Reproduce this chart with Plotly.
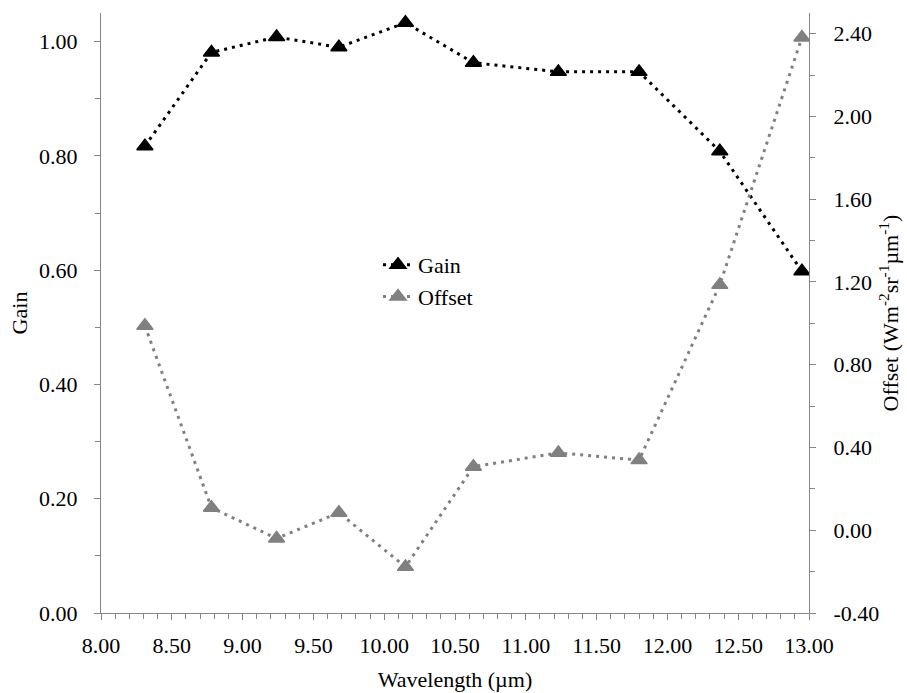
import plotly.graph_objects as go

wavelength = [8.31, 8.78, 9.24, 9.68, 10.15, 10.63, 11.23, 11.80, 12.37, 12.95]
gain = [0.817, 0.981, 1.008, 0.990, 1.033, 0.963, 0.947, 0.947, 0.808, 0.598]
offset = [0.988, 0.109, -0.040, 0.085, -0.177, 0.307, 0.374, 0.339, 1.186, 2.382]

x_tickvals = [8.0, 8.5, 9.0, 9.5, 10.0, 10.5, 11.0, 11.5, 12.0, 12.5, 13.0]
x_ticktext = ["8.00", "8.50", "9.00", "9.50", "10.00", "10.50", "11.00", "11.50", "12.00", "12.50", "13.00"]
gain_tickvals = [0.0, 0.2, 0.4, 0.6, 0.8, 1.0]
gain_ticktext = ["0.00", "0.20", "0.40", "0.60", "0.80", "1.00"]
off_tickvals = [-0.4, 0.0, 0.4, 0.8, 1.2, 1.6, 2.0, 2.4]
off_ticktext = ["-0.40", "0.00", "0.40", "0.80", "1.20", "1.60", "2.00", "2.40"]

FONT = "Liberation Serif"
F = dict(family=FONT, size=22, color="black")
AXC = "#868686"

fig = go.Figure()
fig.add_trace(go.Scatter(
    x=wavelength, y=gain, name="Gain", mode="lines+markers",
    line=dict(color="black", width=3, dash="3px,5px"),
    marker=dict(symbol="triangle-up", size=14, color="black",
                line=dict(color="black", width=1.5)),
    yaxis="y"))
fig.add_trace(go.Scatter(
    x=wavelength, y=offset, name="Offset", mode="lines+markers",
    line=dict(color="#808080", width=3, dash="3px,5px"),
    marker=dict(symbol="triangle-up", size=14, color="#808080",
                line=dict(color="#808080", width=1.5)),
    yaxis="y2"))

fig.update_layout(
    width=907, height=693,
    margin=dict(l=101, r=98, t=13, b=80),
    paper_bgcolor="white", plot_bgcolor="white",
    font=F,
    showlegend=True,
    legend=dict(x=(378 - 101) / 708, y=(613 - 244) / 600, xanchor="left", yanchor="top",
                bgcolor="rgba(0,0,0,0)", font=F, tracegroupgap=0,
                itemwidth=30),
    xaxis=dict(range=[8, 13], tickvals=x_tickvals, ticktext=x_ticktext, tickfont=F,
               showline=True, linecolor=AXC, linewidth=1, mirror=False, automargin=False,
               ticks="outside", ticklen=6, tickcolor=AXC, showgrid=False, zeroline=False,
               minor=dict(dtick=0.1, tick0=8, ticks="outside", ticklen=5, tickcolor=AXC, showgrid=False),
               title=dict(text="Wavelength (µm)", standoff=14, font=F),
               ticklabelstandoff=7),
    yaxis=dict(range=[0, 1.05], tickvals=gain_tickvals, ticktext=gain_ticktext, tickfont=F,
               showline=True, linecolor=AXC, linewidth=1, automargin=False,
               ticks="outside", ticklen=6, tickcolor=AXC, showgrid=False, zeroline=False,
               minor=dict(dtick=0.1, tick0=0, ticks="outside", ticklen=5, tickcolor=AXC, showgrid=False),
               title=dict(text="Gain", standoff=5, font=F),
               ticklabelstandoff=12),
    yaxis2=dict(range=[-0.4, 2.5], tickvals=off_tickvals, ticktext=off_ticktext, tickfont=F,
                overlaying="y", side="right", automargin=False,
                showline=True, linecolor=AXC, linewidth=1,
                ticks="outside", ticklen=6, tickcolor=AXC, showgrid=False, zeroline=False,
                minor=dict(dtick=0.2, tick0=-0.4, ticks="outside", ticklen=5, tickcolor=AXC, showgrid=False),
                title=dict(text="Offset (Wm<sup>-2</sup>sr<sup>-1</sup>µm<sup>-1</sup>)", standoff=4, font=F),
                ticklabelstandoff=13),
)

fig.write_html("out.html")
